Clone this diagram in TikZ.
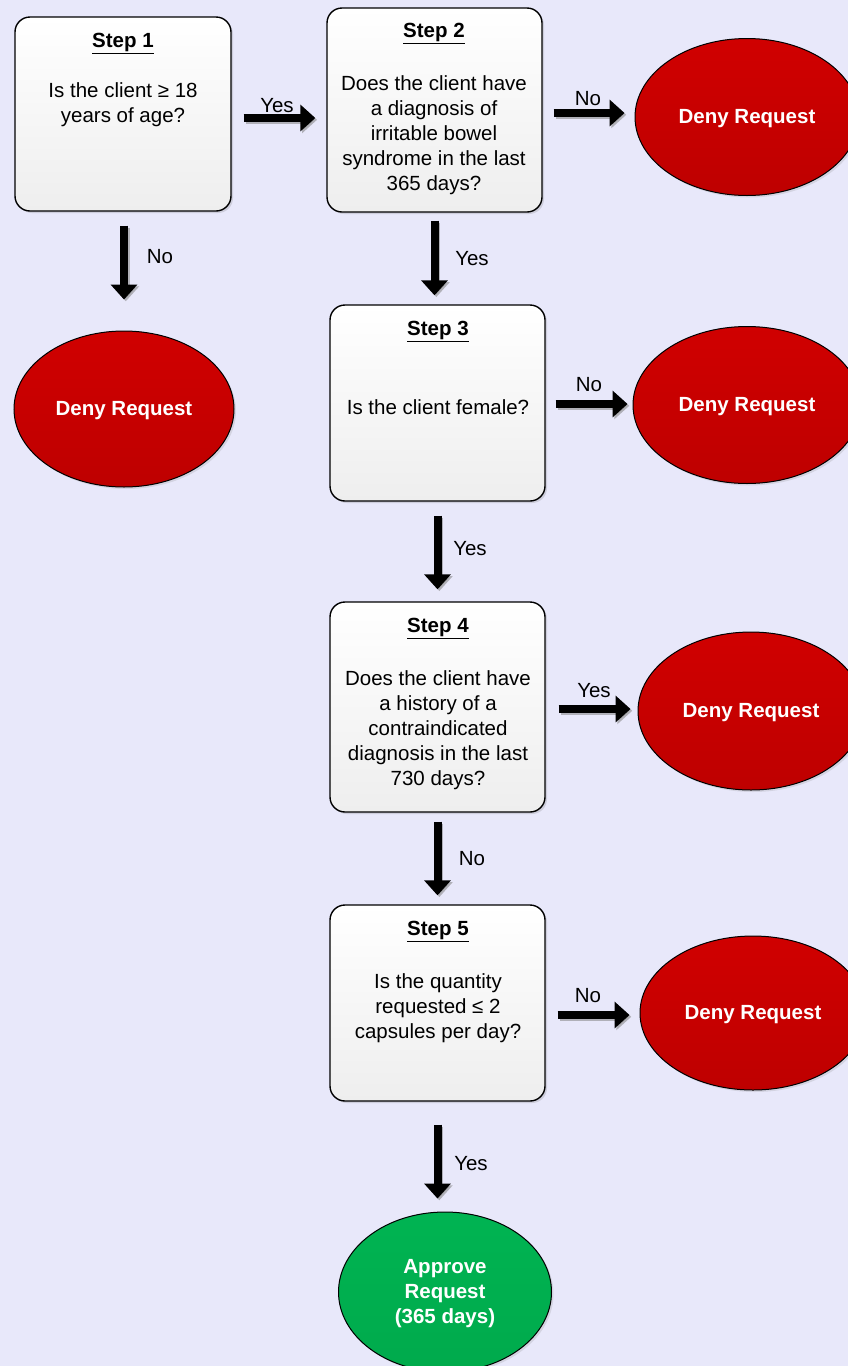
\documentclass[tikz,border=0pt]{standalone}
\usepackage{fontspec}
\setmainfont{Liberation Sans}
\usetikzlibrary{shapes.geometric,arrows.meta,shadows}
\definecolor{bg}{RGB}{232,232,250}
\definecolor{redtop}{RGB}{208,0,0}
\definecolor{redbot}{RGB}{190,0,0}
\definecolor{grtop}{RGB}{0,180,82}
\definecolor{grbot}{RGB}{0,170,76}
\definecolor{boxbot}{RGB}{238,238,238}
\newcommand{\outtext}[1]{\raisebox{-7pt}[0pt][0pt]{\begin{tabular}{@{}c@{}}#1\end{tabular}}}
\tikzset{
  stepbox/.style={draw=black, line width=1.4pt, rounded corners=15pt, top color=white, bottom color=boxbot,
    drop shadow={opacity=0.25, shadow xshift=2pt, shadow yshift=-2pt}, inner sep=0pt},
  txt/.style={font=\fontsize{20.5}{25}\selectfont, align=center, inner sep=0pt},
  ttl/.style={font=\fontsize{20.5}{25}\selectfont\bfseries, inner sep=0pt},
  deny/.style={ellipse, draw=black, line width=1pt, top color=redtop, bottom color=redbot,
    text=white, font=\fontsize{20.5}{25}\selectfont\bfseries, inner sep=0pt,
    drop shadow={opacity=0.2, shadow xshift=2pt, shadow yshift=-2pt}},
  appr/.style={deny, top color=grtop, bottom color=grbot},
  barrow/.style={line width=8pt, -{Triangle[length=15pt,width=26pt]}},
  bshadow/.style={barrow, draw=black!45, opacity=0.6, transform canvas={shift={(1.8pt,-1.8pt)}}},
  lbl/.style={font=\fontsize{20.5}{25}\selectfont, inner sep=0pt}
}
\begin{document}
\begin{tikzpicture}[x=1pt,y=-1pt]
\fill[bg] (0,0) rectangle (848,1366);
\useasboundingbox (0,0) rectangle (848,1366);

% step boxes
\node[stepbox, minimum width=216pt, minimum height=194pt] (s1) at (123,114) {};
\node[stepbox, minimum width=215pt, minimum height=204pt] (s2) at (434.5,110) {};
\node[stepbox, minimum width=215pt, minimum height=196pt] (s3) at (437.5,403) {};
\node[stepbox, minimum width=215pt, minimum height=210pt] (s4) at (437.5,707) {};
\node[stepbox, minimum width=215pt, minimum height=196pt] (s5) at (437.5,1003) {};

% texts
\node[ttl] (t1) at (123,43.5) {\underline{Step 1}};
\node[txt] (b1) at (123,105) {Is the client ≥ 18\\years of age?};
\node[ttl] (t2) at (434,33.5) {\underline{Step 2}};
\node[txt] (b2) at (434,135) {Does the client have\\a diagnosis of\\irritable bowel\\syndrome in the last\\365 days?};
\node[ttl] (t3) at (438,331.5) {\underline{Step 3}};
\node[txt] (b3) at (438,407.5) {Is the client female?};
\node[ttl] (t4) at (438,628.5) {\underline{Step 4}};
\node[txt] (b4) at (438,730) {Does the client have\\a history of a\\contraindicated\\diagnosis in the last\\730 days?};
\node[ttl] (t5) at (438,931.5) {\underline{Step 5}};
\node[txt] (b5) at (438,1008.5) {Is the quantity\\requested ≤ 2\\capsules per day?};

% outcomes
\node[deny, minimum width=224pt, minimum height=157pt] (d2) at (747,117) {\outtext{Deny Request}};
\node[deny, minimum width=220pt, minimum height=156pt] (d1) at (124,409) {\outtext{Deny Request}};
\node[deny, minimum width=228pt, minimum height=157pt] (d3) at (747,405) {\outtext{Deny Request}};
\node[deny, minimum width=226pt, minimum height=158pt] (d4) at (751,711) {\outtext{Deny Request}};
\node[deny, minimum width=226pt, minimum height=154pt] (d5) at (753,1013) {\outtext{Deny Request}};
\node[appr, minimum width=213pt, minimum height=160pt] (ap) at (445,1292) {\outtext{Approve\\Request\\(365 days)}};

% arrows: shadows
\draw[bshadow, shorten <=12pt, shorten >=11pt] ([yshift=-4pt]s1.east) -- ([yshift=-4pt]s1.east -| s2.west);
\draw[bshadow, shorten <=14pt, shorten >=31pt] ([xshift=1pt]s1.south) -- ([xshift=1pt]s1.south |- d1.north);
\draw[bshadow, shorten <=11pt, shorten >=10pt] ([yshift=-3pt]s2.east) -- ([yshift=-3pt]s2.east -| d2.west);
\draw[bshadow, shorten <=8pt, shorten >=9pt] (s2.south) -- (s2.south |- s3.north);
\draw[bshadow, shorten <=10pt, shorten >=5pt] ([yshift=-1pt]s3.east) -- ([yshift=-1pt]s3.east -| d3.west);
\draw[bshadow, shorten <=14pt, shorten >=12pt] (s3.south) -- (s4.north);
\draw[bshadow, shorten <=13pt, shorten >=7pt] ([yshift=-2pt]s4.east) -- ([yshift=-2pt]s4.east -| d4.west);
\draw[bshadow, shorten <=9pt, shorten >=9pt] (s4.south) -- (s5.north);
\draw[bshadow, shorten <=12pt, shorten >=10pt] ([yshift=-12pt]s5.east) -- ([yshift=-12pt]s5.east -| d5.west);
\draw[bshadow, shorten <=23pt, shorten >=13pt] (s5.south) -- (s5.south |- ap.north);

% arrows
\draw[barrow, shorten <=12pt, shorten >=11pt] ([yshift=-4pt]s1.east) -- ([yshift=-4pt]s1.east -| s2.west);
\draw[barrow, shorten <=14pt, shorten >=31pt] ([xshift=1pt]s1.south) -- ([xshift=1pt]s1.south |- d1.north);
\draw[barrow, shorten <=11pt, shorten >=10pt] ([yshift=-3pt]s2.east) -- ([yshift=-3pt]s2.east -| d2.west);
\draw[barrow, shorten <=8pt, shorten >=9pt] (s2.south) -- (s2.south |- s3.north);
\draw[barrow, shorten <=10pt, shorten >=5pt] ([yshift=-1pt]s3.east) -- ([yshift=-1pt]s3.east -| d3.west);
\draw[barrow, shorten <=14pt, shorten >=12pt] (s3.south) -- (s4.north);
\draw[barrow, shorten <=13pt, shorten >=7pt] ([yshift=-2pt]s4.east) -- ([yshift=-2pt]s4.east -| d4.west);
\draw[barrow, shorten <=9pt, shorten >=9pt] (s4.south) -- (s5.north);
\draw[barrow, shorten <=12pt, shorten >=10pt] ([yshift=-12pt]s5.east) -- ([yshift=-12pt]s5.east -| d5.west);
\draw[barrow, shorten <=23pt, shorten >=13pt] (s5.south) -- (s5.south |- ap.north);

% labels
\node[lbl] (l1) at (277,106) {Yes};
\node[lbl] (l2) at (160,257) {No};
\node[lbl] (l3) at (588,99) {No};
\node[lbl] (l4) at (472,259) {Yes};
\node[lbl] (l5) at (589,385) {No};
\node[lbl] (l6) at (470,549) {Yes};
\node[lbl] (l7) at (594,691) {Yes};
\node[lbl] (l8) at (472,859) {No};
\node[lbl] (l9) at (588,996) {No};
\node[lbl] (l10) at (471,1164) {Yes};
\end{tikzpicture}
\end{document}
